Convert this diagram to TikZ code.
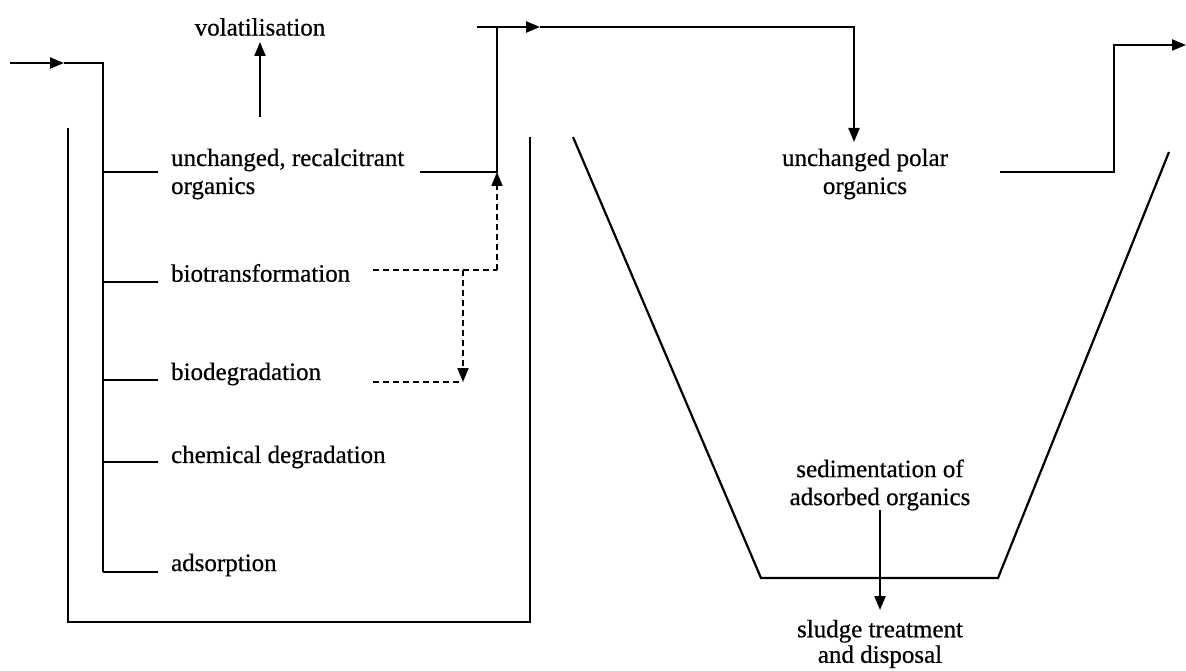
\documentclass[tikz,border=0pt]{standalone}
\usepackage{fontspec}
\setmainfont{Liberation Serif}[FakeBold=0.6]
\usetikzlibrary{arrows.meta}
\begin{document}
\begin{tikzpicture}[x=1pt,y=-1pt, line width=2.2pt,
  arr/.style={-{Triangle[length=14pt,width=11pt]}},
  lbl/.style={font=\fontsize{25}{28}\selectfont, inner sep=0pt, align=left, anchor=west},
  clbl/.style={font=\fontsize{25}{28}\selectfont, inner sep=0pt, align=center},
  dsh/.style={dash pattern=on 6pt off 4pt, line width=1.8pt}]
\useasboundingbox (0,0) rectangle (1186,671);
% labels
\node[clbl] (vol) at (260,27) {volatilisation};
\node[lbl] (unch) at (170,174) {unchanged, recalcitrant\\organics};
\node[lbl] (biot) at (170,273) {biotransformation};
\node[lbl] (biod) at (170,374) {biodegradation};
\node[lbl] (chem) at (170,457) {chemical degradation};
\node[lbl] (ads) at (170,565) {adsorption};
\node[clbl] (polar) at (865,174) {unchanged polar\\organics};
\node[clbl] (sed) at (880,485) {sedimentation of\\adsorbed organics};
\node[clbl, font=\fontsize{25}{25.5}\selectfont] (sludge) at (880,644) {sludge treatment\\and disposal};
% coordinates
\coordinate (in0) at (10,63);
\coordinate (inm) at (64,63);
\coordinate (in1) at (103,63);
\coordinate (vb) at (103,572);
\foreach \n/\y in {b1/172,b2/282,b3/380,b4/462,b5/572}{
  \coordinate (\n a) at (103,\y);
  \coordinate (\n b) at (158,\y);
}
\coordinate (volb) at (260,117);
\coordinate (volt) at (260,42);
\coordinate (tl1) at (68,128);
\coordinate (tl2) at (68,622);
\coordinate (tl3) at (530,622);
\coordinate (tl4) at (530,137);
\coordinate (o1) at (420,172);
\coordinate (o2) at (497,172);
\coordinate (o3) at (497,27);
\coordinate (t0) at (477,27);
\coordinate (tm) at (540,27);
\coordinate (t1) at (854,27);
\coordinate (t2) at (854,142);
\coordinate (d1) at (373,270);
\coordinate (d2) at (497,270);
\coordinate (d3) at (463,270);
\coordinate (d4) at (463,382);
\coordinate (d5) at (373,382);
\coordinate (r1) at (1000,172);
\coordinate (r2) at (1114,172);
\coordinate (r3) at (1114,45);
\coordinate (r4) at (1186,45);
\coordinate (p1) at (573,137);
\coordinate (p2) at (761,578);
\coordinate (p3) at (998,578);
\coordinate (p4) at (1169,152);
\coordinate (s1) at (880,510);
\coordinate (s2) at (880,610);
% drawing
\draw[arr] (in0) -- (inm);
\draw (inm) -- (in1) -- (vb);
\foreach \n in {b1,b2,b3,b4,b5} \draw (\n a) -- (\n b);
\draw[arr] (volb) -- (volt);
\draw (tl1) -- (tl2) -- (tl3) -- (tl4);
\draw (o1) -- (o2) -- (o3);
\draw[arr] (t0) -- (tm);
\draw[arr] (tm) -- (t1) -- (t2);
\draw[dsh] (d1) -- (d2);
\draw[dsh,arr] (d2) -- (o2);
\draw[dsh,arr] (d3) -- (d4);
\draw[dsh] (d5) -- (d4);
\draw[arr] (r1) -- (r2) -- (r3) -- (r4);
\draw (p1) -- (p2) -- (p3) -- (p4);
\draw[arr] (s1) -- (s2);
\end{tikzpicture}
\end{document}
